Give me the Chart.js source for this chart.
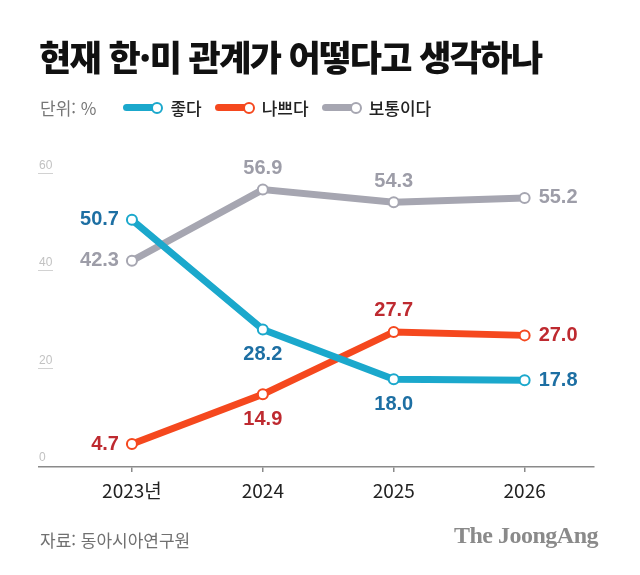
<!DOCTYPE html>
<html lang="ko">
<head>
<meta charset="utf-8">
<script src="https://cdn.jsdelivr.net/npm/chart.js@4/dist/chart.umd.min.js"></script>
<style>
  body { margin: 0; background: #fff; font-family: "Noto Sans CJK KR", sans-serif; }
  #wrap { position: relative; width: 640px; height: 575px; overflow: hidden; }
  canvas { position: absolute; left: 0; top: 0; }
  .title { position: absolute; left: 39px; top: 30px; font-size: 35px; font-weight: 900; color: #111; letter-spacing: -1.6px; white-space: nowrap; }
  .legend { position: absolute; left: 40px; top: 95px; display: flex; align-items: center; font-size: 17px; }
  .unit { color: #777; margin-right: 27px; }
  .item { display: flex; align-items: center; margin-right: 13px; color: #222; font-weight: 500; }
  .line { width: 32px; height: 7px; border-radius: 4px; }
  .dot { width: 8px; height: 8px; border-radius: 50%; background: #fff; border: 2px solid; margin-left: -4px; margin-right: 7px; }
  .source { position: absolute; left: 40px; top: 527px; font-size: 17px; color: #707070; }
  .brand { position: absolute; right: 42px; top: 522px; font-family: "Liberation Serif", serif; font-weight: bold; font-size: 24px; color: #8a8a8a; letter-spacing: -0.5px; }
</style>
</head>
<body>
<div id="wrap">
  <canvas id="chart" width="640" height="575"></canvas>
  <div class="title">현재 한·미 관계가 어떻다고 생각하나</div>
  <div class="legend" id="legend"><span class="unit">단위: %</span></div>
  <div class="source">자료: 동아시아연구원</div>
  <div class="brand">The JoongAng</div>
</div>
<script>
// data
const years = ['2023년', '2024', '2025', '2026'];
const seriesNames = ['좋다', '나쁘다', '보통이다'];
const good = [50.7, 28.2, 18.0, 17.8];
const bad = [4.7, 14.9, 27.7, 27.0];
const neutral = [42.3, 56.9, 54.3, 55.2];
const yTicks = [0, 20, 40, 60];

// styles
const lineColors = ['#1ba8cc', '#f5481e', '#a6a6b1'];
const labelColors = ['#1d6fa3', '#be2a30', '#9d9da8'];
// where each value label sits relative to its point
const labelPlace = [
    ['left', 'below', 'below', 'right'],
    ['left', 'below', 'above', 'right'],
    ['left', 'above', 'above', 'right']
];

// legend (html)
const legendEl = document.getElementById('legend');
seriesNames.forEach((name, i) => {
    const item = document.createElement('span');
    item.className = 'item';
    item.innerHTML = '<span class="line" style="background:' + lineColors[i] + '"></span>' +
        '<span class="dot" style="border-color:' + lineColors[i] + '"></span>' + name;
    legendEl.appendChild(item);
});

const valueLabels = {
    id: 'valueLabels',
    afterDatasetsDraw(chart) {
        const ctx = chart.ctx;
        ctx.save();
        ctx.font = 'bold 20px "Liberation Sans", Arial, sans-serif';
        chart.data.datasets.forEach((ds, di) => {
            const meta = chart.getDatasetMeta(di);
            meta.data.forEach((pt, i) => {
                const place = labelPlace[di][i];
                let x = pt.x, y = pt.y;
                ctx.fillStyle = labelColors[di];
                ctx.textBaseline = 'middle';
                if (place === 'left') { ctx.textAlign = 'right'; x -= 13; }
                else if (place === 'right') { ctx.textAlign = 'left'; x += 14; }
                else if (place === 'above') { ctx.textAlign = 'center'; y -= 21; }
                else { ctx.textAlign = 'center'; y += 25; }
                ctx.fillText(ds.data[i].y.toFixed(1), x, y);
            });
        });
        ctx.restore();
    }
};

// short underline below each y tick label
const tickUnderlines = {
    id: 'tickUnderlines',
    afterDraw(chart) {
        const ctx = chart.ctx;
        const yScale = chart.scales.y;
        ctx.save();
        ctx.strokeStyle = '#d2d2d2';
        ctx.lineWidth = 1;
        yTicks.forEach(v => {
            if (v === 0) return;
            const py = Math.round(yScale.getPixelForValue(v)) - 1.5;
            ctx.beginPath();
            ctx.moveTo(38, py);
            ctx.lineTo(53, py);
            ctx.stroke();
        });
        ctx.restore();
    }
};

function makeSet(values, i) {
    return {
        label: seriesNames[i],
        data: values.map((v, k) => ({ x: k, y: v })),
        borderColor: lineColors[i],
        borderWidth: 7,
        pointRadius: 5,
        pointBorderWidth: 2,
        pointBackgroundColor: '#fff',
        pointBorderColor: lineColors[i],
        tension: 0,
        fill: false
    };
}

new Chart(document.getElementById('chart'), {
    type: 'line',
    data: {
        datasets: [makeSet(good, 0), makeSet(bad, 1), makeSet(neutral, 2)]
    },
    options: {
        responsive: false,
        animation: false,
        layout: { padding: { left: 39, right: 46, top: 155, bottom: 68 } },
        plugins: { legend: { display: false }, tooltip: { enabled: false } },
        scales: {
            x: {
                type: 'linear',
                min: -0.71,
                max: 3.53,
                afterFit: s => { s.height = 40; },
                afterBuildTicks: s => { s.ticks = years.map((y, k) => ({ value: k })); },
                grid: { drawOnChartArea: false, drawTicks: true, tickLength: 5, color: '#8a8a8a', lineWidth: 1.5 },
                border: { display: true, color: '#8a8a8a', width: 1.5 },
                ticks: {
                    padding: 7,
                    maxRotation: 0,
                    autoSkip: false,
                    color: '#222',
                    font: { family: '"Noto Sans CJK KR", sans-serif', size: 19 },
                    callback: v => years[v]
                }
            },
            y: {
                min: 0,
                max: 64,
                afterFit: s => { s.width = 0; },
                afterBuildTicks: s => { s.ticks = yTicks.map(v => ({ value: v })); },
                grid: { display: false },
                border: { display: false },
                ticks: {
                    mirror: true,
                    padding: 0,
                    labelOffset: -9,
                    color: '#c2c2c2',
                    font: { family: '"Liberation Sans", sans-serif', size: 12 }
                }
            }
        }
    },
    plugins: [valueLabels, tickUnderlines]
});
</script>
</body>
</html>
